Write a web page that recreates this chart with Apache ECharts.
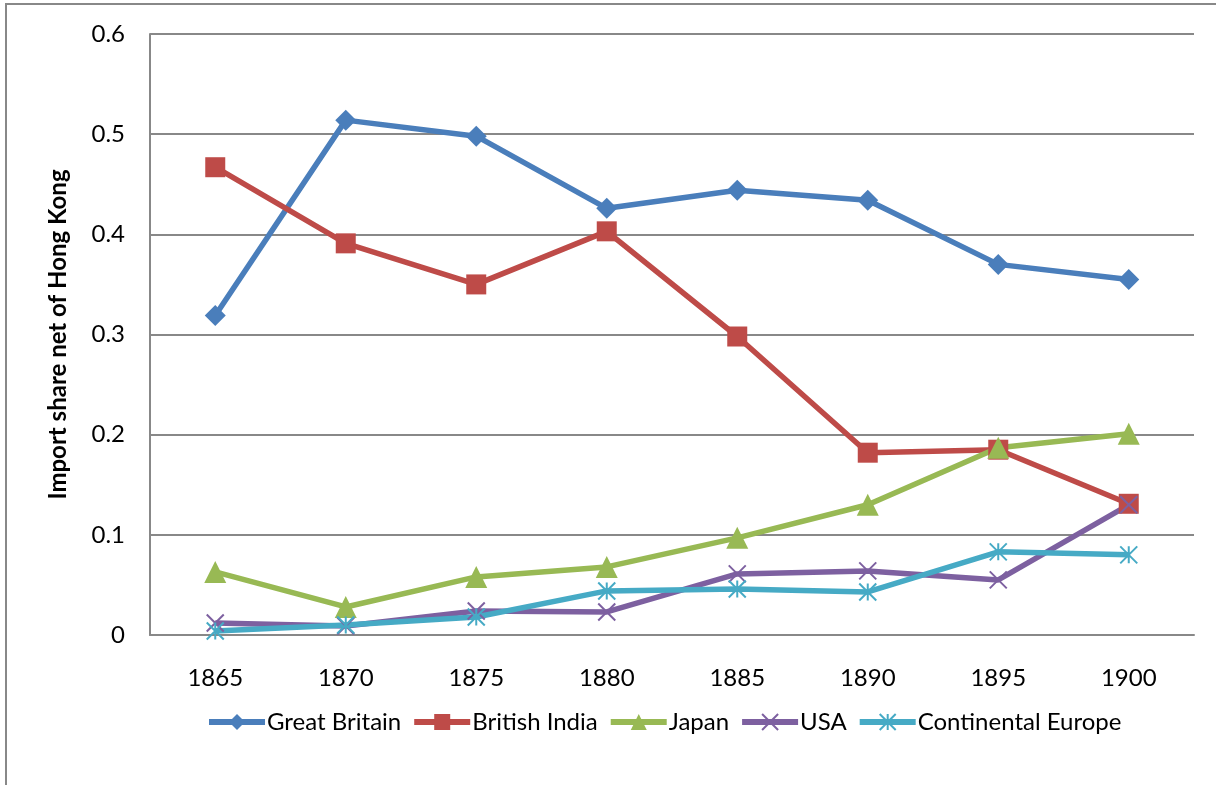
<!DOCTYPE html>
<html>
<head>
<meta charset="utf-8">
<script src="https://cdn.jsdelivr.net/npm/echarts@6/dist/echarts.min.js"></script>
<style>
  html, body { margin: 0; padding: 0; background: #fff; }
  #chart { width: 1216px; height: 785px; }
</style>
</head>
<body>
<div id="chart"></div>
<script>
// years on the x axis
const years = ["1865", "1870", "1875", "1880", "1885", "1890", "1895", "1900"];
// import shares
const greatBritain = [0.319, 0.514, 0.498, 0.426, 0.444, 0.434, 0.370, 0.355];
const britishIndia = [0.467, 0.391, 0.350, 0.403, 0.298, 0.182, 0.185, 0.131];
const japan = [0.063, 0.028, 0.058, 0.068, 0.097, 0.130, 0.187, 0.201];
const usa = [0.012, 0.009, 0.024, 0.023, 0.061, 0.064, 0.055, 0.130];
const contEurope = [0.004, 0.010, 0.018, 0.044, 0.046, 0.043, 0.083, 0.080];

const font = "Lato, 'Open Sans', sans-serif";
const crossPath = "path://M0,0L10,10M10,0L0,10";
const starPath = "path://M5,0L5,10M0,0L10,10M10,0L0,10";

function makeSeries(name, data, color, symbol, size, stroke) {
  return {
    name: name,
    type: "line",
    data: data,
    symbol: symbol,
    symbolSize: size,
    showAllSymbol: true,
    lineStyle: { color: color, width: 5.5 },
    itemStyle: stroke
      ? { color: color, borderColor: color, borderWidth: 2 }
      : { color: color, borderWidth: 0 },
    emphasis: { disabled: true },
    animation: false,
  };
}

const chart = echarts.init(document.getElementById("chart"));
chart.setOption({
  backgroundColor: "#fff",
  graphic: [
    {
      type: "rect",
      shape: { x: 6, y: 4, width: 1400, height: 900 },
      style: { fill: "none", stroke: "#888", lineWidth: 2 },
      silent: true,
    },
  ],
  grid: { left: 150, right: 22, top: 34, bottom: 150 },
  xAxis: {
    type: "category",
    data: years,
    boundaryGap: true,
    axisLine: { lineStyle: { color: "#888", width: 2 } },
    axisTick: { show: false },
    axisLabel: { color: "#000", fontSize: 24, fontFamily: font, margin: 31 },
  },
  yAxis: {
    type: "value",
    min: 0,
    max: 0.6,
    interval: 0.1,
    name: "Import share net of Hong Kong",
    nameLocation: "middle",
    nameGap: 80,
    nameTextStyle: { color: "#000", fontSize: 24, fontWeight: "bold", fontFamily: font },
    axisLine: { show: true, lineStyle: { color: "#888", width: 2 } },
    axisTick: { show: false },
    axisLabel: { color: "#000", fontSize: 24, fontFamily: font, margin: 25 },
    splitLine: { lineStyle: { color: "#888", width: 2 } },
  },
  legend: {
    bottom: 46,
    left: 201,
    itemWidth: 56,
    itemHeight: 20,
    itemGap: 10,
    lineStyle: { width: 6 },
    textStyle: { color: "#000", fontSize: 24, fontFamily: font, padding: [0, 0, 0, -3] },
    data: ["Great Britain", "British India", "Japan", "USA", "Continental Europe"],
  },
  series: [
    makeSeries("Great Britain", greatBritain, "#4A7EBB", "diamond", 21, false),
    makeSeries("British India", britishIndia, "#BE4B48", "rect", 20, false),
    makeSeries("Japan", japan, "#98B954", "triangle", 22, false),
    makeSeries("USA", usa, "#7D60A0", crossPath, 17, true),
    makeSeries("Continental Europe", contEurope, "#46AAC5", starPath, 17, true),
  ],
});
</script>
</body>
</html>
